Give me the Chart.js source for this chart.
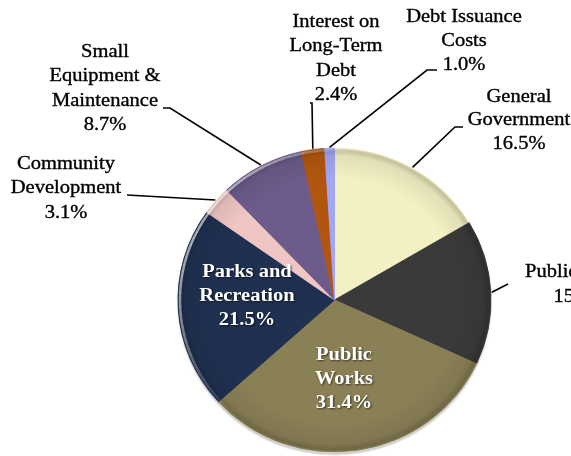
<!DOCTYPE html>
<html>
<head>
<meta charset="utf-8">
<script src="https://cdn.jsdelivr.net/npm/chart.js@4.4.1/dist/chart.umd.min.js"></script>
<style>
  html, body { margin: 0; padding: 0; background: #ffffff; }
  #wrap { width: 571px; height: 456px; position: relative; overflow: hidden; }
</style>
</head>
<body>
<div id="wrap"><canvas id="pie" width="571" height="456"></canvas></div>
<script>
// Expenditure categories (multi-line label text) and their shares in percent
const categories = [
  ['General', 'Government'],
  ['Public Safety'],
  ['Public', 'Works'],
  ['Parks and', 'Recreation'],
  ['Community', 'Development'],
  ['Small', 'Equipment &', 'Maintenance'],
  ['Interest on', 'Long-Term', 'Debt'],
  ['Debt Issuance', 'Costs']
];
const shares = [16.5, 15.4, 31.4, 21.5, 3.1, 8.7, 2.4, 1.0];

const sliceColors = ['#F3F0C3', '#3A3A3A', '#8A8056', '#1F3050', '#EFC6C4', '#6D5B8B', '#B2560F', '#A1A6F6'];

// The pie is drawn slightly flattened, as if seen from a little above
const TILT = 0.97;
// Label text is set a little wide
const TEXT_STRETCH = 1.14;

// Where each label sits: outside labels get a leader line, inside labels sit on the slice
const labelLayout = [
  { type: 'out', cx: 519, y0: 97,  lh: 23.5, elbow: [455, 127], tick: [463, 127] },
  { type: 'out', cx: 580, y0: 272, lh: 25,   elbow: [508, 284], tick: null },
  { type: 'in',  cx: 344, y0: 355, lh: 24 },
  { type: 'in',  cx: 247, y0: 272, lh: 24 },
  { type: 'out', cx: 66,  y0: 164, lh: 24.5, elbow: [127, 195], tick: null },
  { type: 'out', cx: 105, y0: 52,  lh: 24.5, elbow: [170, 108], tick: [163, 108] },
  { type: 'out', cx: 336, y0: 22,  lh: 24.5, elbow: [312, 103], tick: [310, 103] },
  { type: 'out', cx: 464, y0: 17,  lh: 24,   elbow: [427, 70],  tick: [437, 70] }
];

const SERIF = '"Liberation Serif", "Times New Roman", serif';

function pieGeometry(chart) {
  const arc = chart.getDatasetMeta(0).data[0];
  if (!arc) return null;
  return arc.getProps(['x', 'y', 'outerRadius'], true);
}

// Flatten the pie vertically, plus a pale bevelled edge beneath it
const pieTilt = {
  id: 'pieTilt',
  beforeDatasetsDraw(chart) {
    const g = pieGeometry(chart);
    if (!g) return;
    const ctx = chart.ctx;
    ctx.save();
    ctx.translate(g.x, g.y);
    ctx.scale(1, TILT);
    ctx.translate(-g.x, -g.y);
    // pale edge showing under the bottom of the pie
    ctx.save();
    ctx.shadowColor = 'rgba(0,0,0,0.25)';
    ctx.shadowBlur = 2;
    ctx.shadowOffsetY = 1;
    ctx.fillStyle = '#d4d3c9';
    ctx.beginPath();
    ctx.arc(g.x, g.y + 2, g.outerRadius, 0, Math.PI * 2);
    ctx.fill();
    ctx.restore();
  },
  afterDatasetsDraw(chart) {
    const g = pieGeometry(chart);
    if (!g) return;
    const { x, y, outerRadius: R } = g;
    const ctx = chart.ctx;
    ctx.save();
    ctx.beginPath();
    ctx.arc(x, y, R, 0, Math.PI * 2);
    ctx.clip();
    // darker band just inside the rim
    const rg = ctx.createRadialGradient(x, y, R * 0.8, x, y, R);
    rg.addColorStop(0, 'rgba(0,0,0,0)');
    rg.addColorStop(0.75, 'rgba(0,0,0,0.07)');
    rg.addColorStop(0.93, 'rgba(0,0,0,0.2)');
    rg.addColorStop(1, 'rgba(0,0,0,0.05)');
    ctx.fillStyle = rg;
    ctx.fillRect(x - R, y - R, 2 * R, 2 * R);
    // light rim on the upper-left side, fading out at both ends
    ctx.lineWidth = 2.5;
    const a0 = Math.PI * 0.7, a1 = Math.PI * 1.6, steps = 60;
    for (let s = 0; s < steps; s++) {
      const t0 = s / steps, t1 = (s + 1) / steps;
      const alpha = 0.6 * Math.pow(Math.sin(Math.PI * (t0 + t1) / 2), 1.2);
      ctx.strokeStyle = 'rgba(255,255,255,' + alpha.toFixed(3) + ')';
      ctx.beginPath();
      ctx.arc(x, y, R - 2, a0 + (a1 - a0) * t0, a0 + (a1 - a0) * t1 + 0.002);
      ctx.stroke();
    }
    ctx.restore();
    ctx.restore(); // undo the tilt transform
  }
};

function stretchedText(ctx, text, x, y, outline) {
  ctx.save();
  ctx.translate(x, y);
  ctx.scale(TEXT_STRETCH, 1);
  ctx.fillText(text, 0, 0);
  if (outline) ctx.strokeText(text, 0, 0);
  ctx.restore();
}

// Category name + percentage labels, with leader lines for the outside ones
const sliceLabels = {
  id: 'sliceLabels',
  afterDraw(chart) {
    const ctx = chart.ctx;
    const meta = chart.getDatasetMeta(0);
    const values = chart.data.datasets[0].data;
    meta.data.forEach((arc, i) => {
      const p = arc.getProps(['x', 'y', 'startAngle', 'endAngle', 'outerRadius'], true);
      const mid = (p.startAngle + p.endAngle) / 2;
      const L = labelLayout[i];
      const lines = categories[i].concat([values[i].toFixed(1) + '%']);
      ctx.save();
      ctx.textAlign = 'center';
      ctx.textBaseline = 'middle';
      if (L.type === 'in') {
        ctx.font = 'bold 18px ' + SERIF;
        ctx.fillStyle = '#ffffff';
        ctx.shadowColor = 'rgba(0,0,0,0.6)';
        ctx.shadowBlur = 2;
        ctx.shadowOffsetX = 1;
        ctx.shadowOffsetY = 1;
        lines.forEach((t, k) => stretchedText(ctx, t, L.cx, L.y0 + k * L.lh, false));
      } else {
        // leader line from the slice edge to the label
        const sx = p.x + Math.cos(mid) * (p.outerRadius + 1);
        const sy = p.y + Math.sin(mid) * (p.outerRadius + 1) * TILT;
        ctx.strokeStyle = '#000000';
        ctx.lineWidth = 1.6;
        ctx.beginPath();
        ctx.moveTo(sx, sy);
        ctx.lineTo(L.elbow[0], L.elbow[1]);
        if (L.tick) ctx.lineTo(L.tick[0], L.tick[1]);
        ctx.stroke();
        ctx.font = '18px ' + SERIF;
        ctx.fillStyle = '#000000';
        ctx.lineWidth = 0.35;
        lines.forEach((t, k) => stretchedText(ctx, t, L.cx, L.y0 + k * L.lh, true));
      }
      ctx.restore();
    });
  }
};

new Chart(document.getElementById('pie'), {
  type: 'pie',
  data: {
    labels: categories,
    datasets: [{
      data: shares,
      backgroundColor: sliceColors,
      borderColor: sliceColors,
      borderWidth: 1,
      radius: 156.5
    }]
  },
  options: {
    responsive: false,
    animation: false,
    rotation: 0,
    layout: { padding: { left: 178, right: 80, top: 144, bottom: 0 } },
    plugins: {
      legend: { display: false },
      tooltip: { enabled: false }
    }
  },
  plugins: [pieTilt, sliceLabels]
});
</script>
</body>
</html>
